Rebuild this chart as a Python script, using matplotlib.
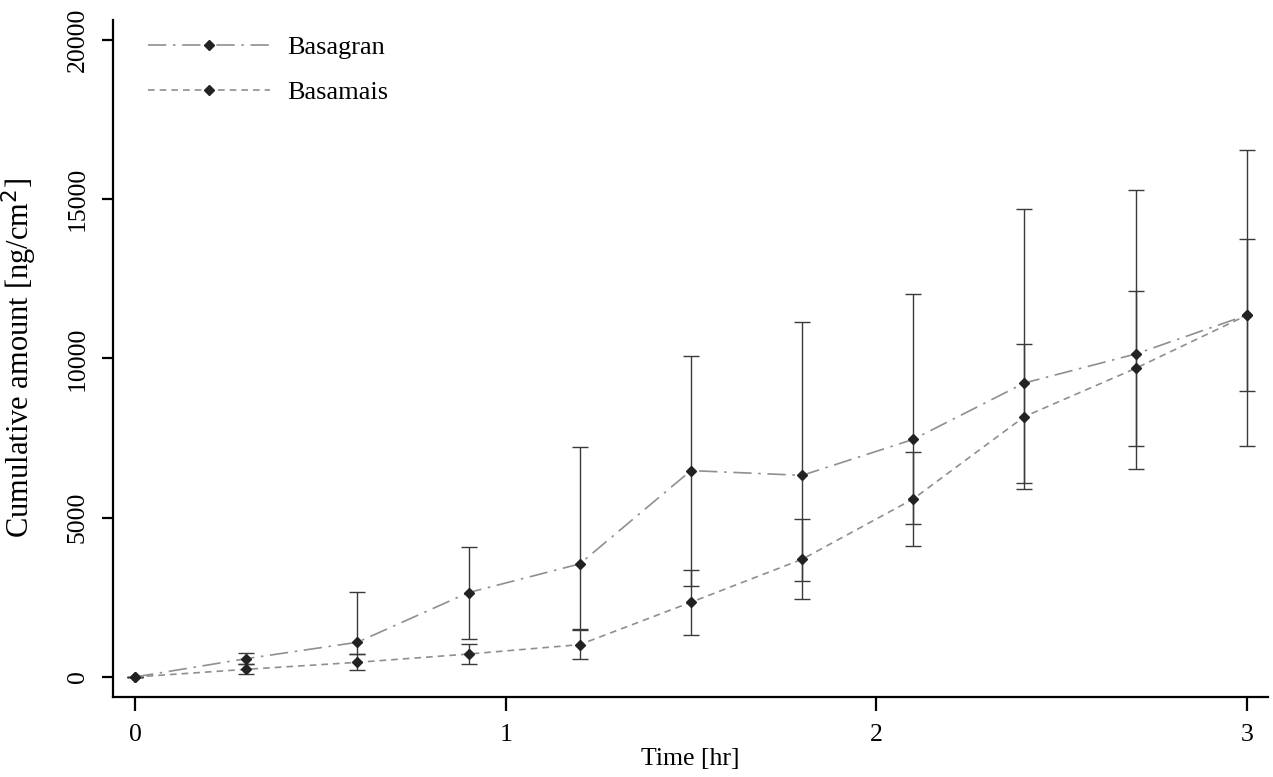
import matplotlib.pyplot as plt

# ---------------------------------------------------------------
# values
# ---------------------------------------------------------------
time_hr = [0, 0.3, 0.6, 0.9, 1.2, 1.5, 1.8, 2.1, 2.4, 2.7, 3.0]

basagran = [0, 575, 1090, 2650, 3550, 6480, 6330, 7460, 9230, 10140, 11360]
basagran_hi = [0, 763, 2670, 4080, 7230, 10090, 11150, 12015, 14680, 15290, 16550]
basagran_lo = [0, 400, 715, 1190, 1500, 2860, 3010, 4795, 6100, 6520, 7245]

basamais = [0, 240, 460, 720, 1015, 2345, 3695, 5590, 8175, 9690, 11355]
basamais_sd = [0, 155, 255, 320, 450, 1025, 1260, 1470, 2270, 2430, 2390]

x_ticks = [0, 1, 2, 3]
y_ticks = [0, 5000, 10000, 15000, 20000]

plt.rcParams['font.family'] = ['Liberation Serif', 'DejaVu Serif']

fig = plt.figure(figsize=(12.73, 7.77), dpi=100)
ax = fig.add_axes([0.0888, 0.103, 0.9072, 0.8713])

err_lo = [m - l for m, l in zip(basagran, basagran_lo)]
err_hi = [h - m for m, h in zip(basagran, basagran_hi)]

ax.errorbar(time_hr, basagran, yerr=[err_lo, err_hi], fmt='none',
            ecolor='#3a3a3a', elinewidth=1.0, capsize=5.5, capthick=1.0, zorder=2)
ax.errorbar(time_hr, basamais, yerr=basamais_sd, fmt='none',
            ecolor='#3a3a3a', elinewidth=1.0, capsize=5.5, capthick=1.0, zorder=2)

ax.plot(time_hr, basagran, color='#8f8f8f', lw=1.2, dashes=(11, 4, 1.5, 4),
        marker='D', ms=5, mfc='#222222', mec='#222222', label='Basagran', zorder=3)
ax.plot(time_hr, basamais, color='#8f8f8f', lw=1.2, dashes=(4, 3),
        marker='D', ms=5, mfc='#222222', mec='#222222', label='Basamais', zorder=3)

ax.set_xlim(-0.0594, 3.057)
ax.set_ylim(-628, 20628)
ax.set_xticks(x_ticks)
ax.set_yticks(y_ticks)
ax.set_xticklabels([str(t) for t in x_ticks])
ax.set_yticklabels([str(t) for t in y_ticks], rotation=90, va='center')

for s in ['top', 'right']:
    ax.spines[s].set_visible(False)
for s in ['left', 'bottom']:
    ax.spines[s].set_linewidth(1.6)
ax.tick_params(axis='both', direction='out', width=1.6, labelsize=18.5)
ax.tick_params(axis='x', length=10, pad=9.5)
ax.tick_params(axis='y', length=8, pad=9.5)

ax.set_xlabel('Time [hr]', fontsize=18.5, labelpad=1.5)
ax.set_ylabel('Cumulative amount [ng/cm$^2$]', fontsize=22)
ax.yaxis.set_label_coords(-0.064, 0.5)

ax.legend(loc='upper left', frameon=False, fontsize=19, numpoints=1,
          handlelength=4.6, handletextpad=0.65, labelspacing=0.82,
          bbox_to_anchor=(0.01, 1.012))

fig.savefig('out.png', dpi=100)
